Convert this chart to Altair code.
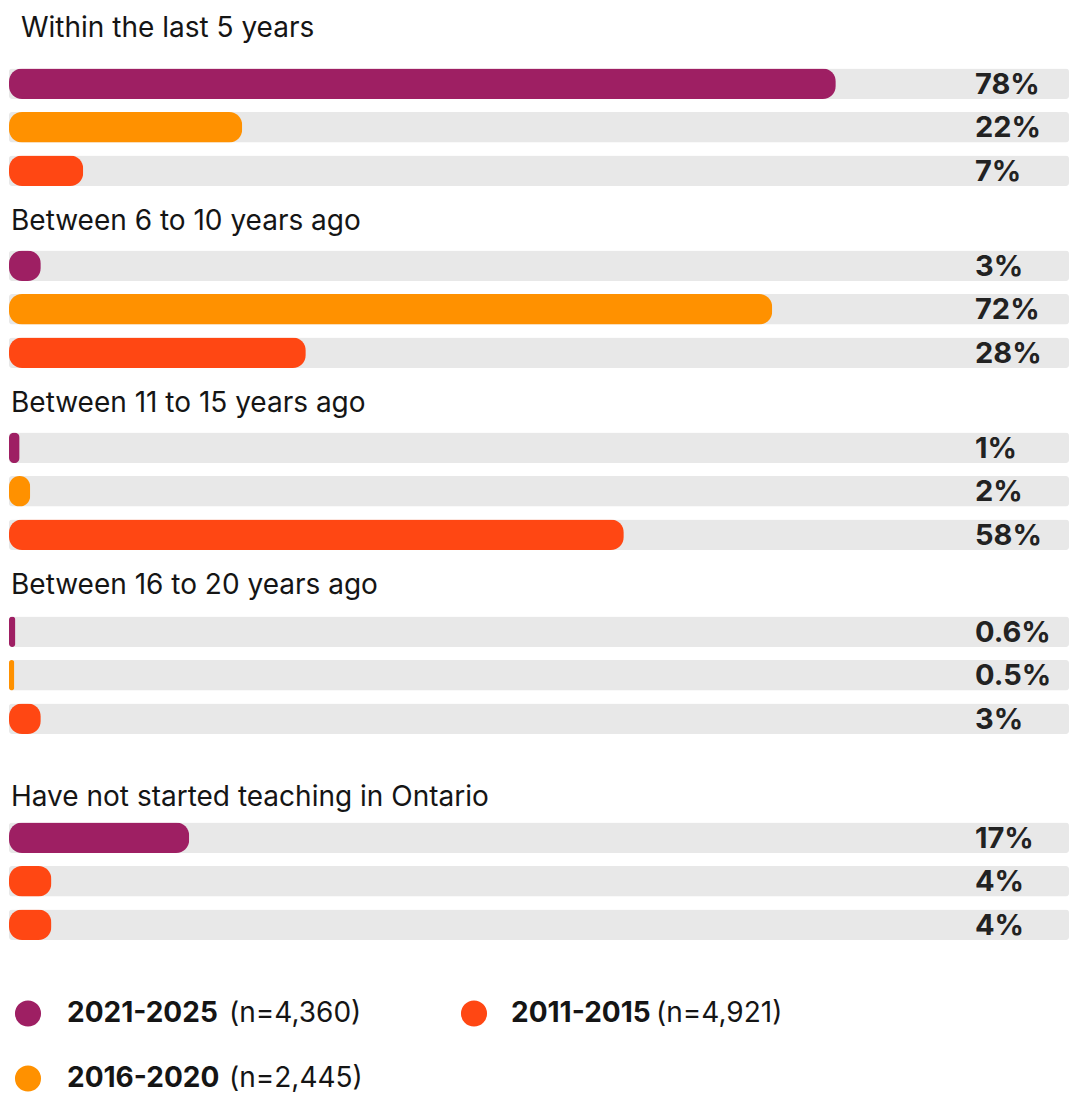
import altair as alt
import pandas as pd

groups = [
    "Within the last 5 years",
    "Between 6 to 10 years ago",
    "Between 11 to 15 years ago",
    "Between 16 to 20 years ago",
    "Have not started teaching in Ontario",
]
series = ["2021-2025", "2016-2020", "2011-2015"]
series_n = ["4,360", "2,445", "4,921"]
series_colors = ["#9e1f63", "#ff9100", "#ff4713"]
values = [
    [78, 22, 7],
    [3, 72, 28],
    [1, 2, 58],
    [0.6, 0.5, 3],
    [17, 4, 4],
]
# colour each bar is drawn in, as in the source graphic
drawn_series = [
    series, series, series, series,
    ["2021-2025", "2011-2015", "2011-2015"],
]

FONT = "Inter"
TITLE_SIZE = 28
color_scale = alt.Scale(domain=series, range=series_colors)


def panel(i, offset, dx=0):
    df = pd.DataFrame({
        "series": series,
        "value": values[i],
        "label": [f"{v:g}%" for v in values[i]],
        "drawn": drawn_series[i],
        "full": [100] * 3,
    })
    y = alt.Y("series:N", sort=series, axis=None,
              scale=alt.Scale(paddingInner=0.3, paddingOuter=0.15))
    xs = alt.Scale(domain=[0, 100], nice=False)
    base = alt.Chart(df).encode(y=y)
    bg = base.mark_bar(color="#e8e8e8", cornerRadius=3).encode(
        x=alt.X("full:Q", scale=xs, axis=None))
    fg = base.mark_bar(cornerRadius=13).encode(
        x=alt.X("value:Q", scale=xs, axis=None),
        color=alt.Color("drawn:N", scale=color_scale, legend=None))
    txt = base.mark_text(align="left", baseline="middle", font=FONT, fontSize=29,
                         fontWeight="bold", color="#222222", dy=1).encode(
        x=alt.value(966), text="label:N")
    t = alt.TitleParams(text=groups[i], anchor="start", fontSize=TITLE_SIZE, font=FONT,
                        fontWeight="normal", color="#151515", offset=offset, dx=dx)
    return alt.layer(bg, fg, txt, title=t).properties(width=1060, height=alt.Step(43.5))


# legend
leg_df = pd.DataFrame({
    "series": series,
    "n": [f"(n={n})" for n in series_n],
    "col": [k // 2 for k in range(3)],
    "row": [k % 2 for k in range(3)],
})
lx = alt.X("col:O", axis=None, scale=alt.Scale(type="point", range=[19, 465], padding=0))
ly = alt.Y("row:O", axis=None, scale=alt.Scale(type="point", range=[66.5, 131.5], padding=0))
lbase = alt.Chart(leg_df).encode(x=lx, y=ly)
dots = lbase.mark_point(shape="circle", filled=True, size=680, opacity=1).encode(
    color=alt.Color("series:N", scale=color_scale, legend=None))
names0 = lbase.transform_filter("datum.col == 0").mark_text(
    align="left", baseline="middle", dx=39, font=FONT, fontSize=28,
    fontWeight="bold", color="#151515").encode(text="series:N")
names1 = lbase.transform_filter("datum.col == 1").mark_text(
    align="left", baseline="middle", dx=37, font=FONT, fontSize=28,
    fontWeight="bold", color="#151515").encode(text="series:N")
ns0 = lbase.transform_filter("datum.col == 0").mark_text(
    align="left", baseline="middle", dx=201, font=FONT, fontSize=28,
    color="#151515").encode(text="n:N")
ns1 = lbase.transform_filter("datum.col == 1").mark_text(
    align="left", baseline="middle", dx=182, font=FONT, fontSize=28,
    color="#151515").encode(text="n:N")
legend = alt.layer(dots, names0, names1, ns0, ns1).properties(width=1060, height=146)

top4 = alt.vconcat(panel(0, 19, 12), panel(1, 8, 2), panel(2, 8, 2), panel(3, 10, 2),
                   spacing=15)
main = alt.vconcat(top4, panel(4, 4, 2), spacing=43)
chart = alt.vconcat(main, legend, spacing=0).properties(
    padding={"left": 9, "right": 1, "top": 15, "bottom": 0},
    background="white",
).configure_view(strokeWidth=0, stroke="transparent")

chart.save("out.html", embed_options={"renderer": "svg", "actions": False})
